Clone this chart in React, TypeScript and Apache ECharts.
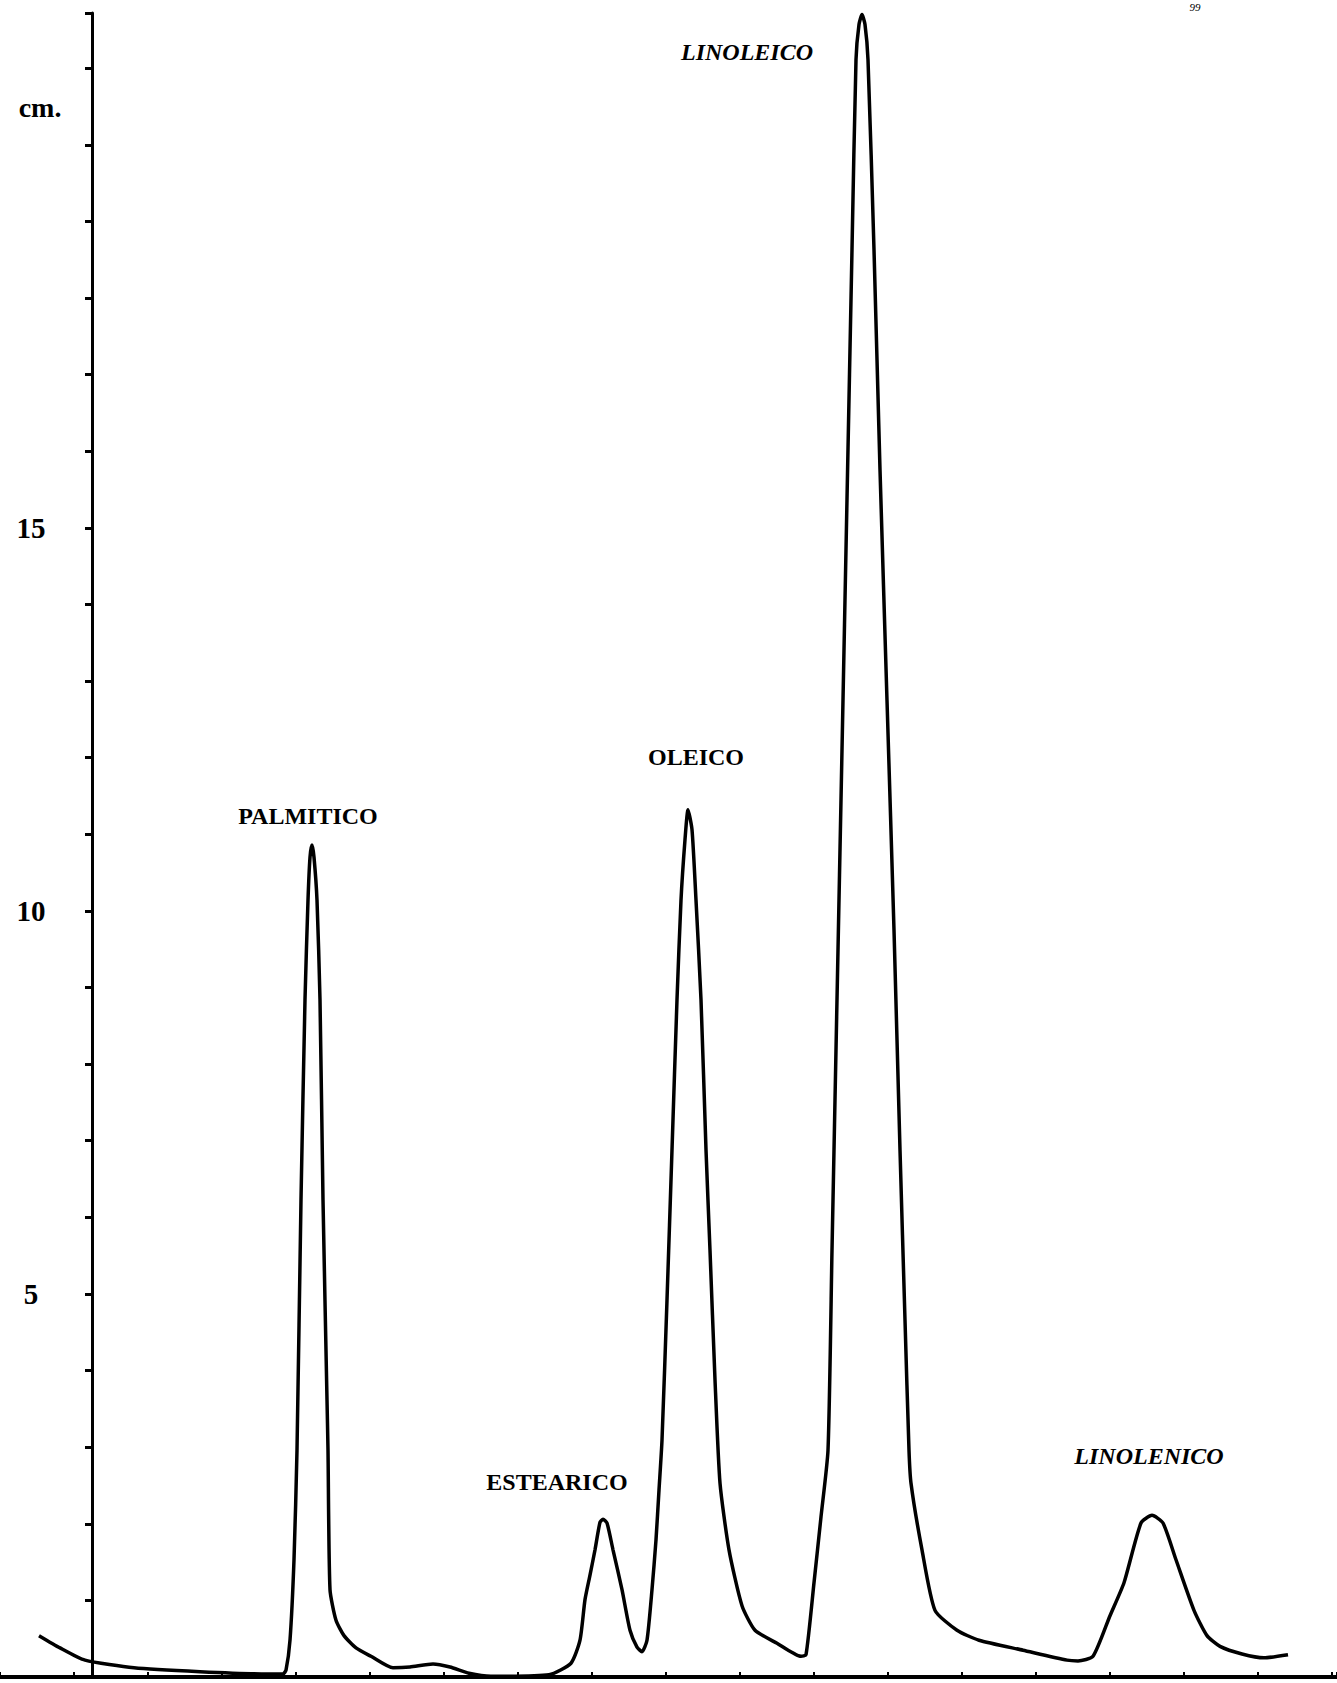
import React, { useEffect, useRef } from "react";
import * as echarts from "echarts";

// Retention (chart-paper units, one tick every 74 units) and detector response (cm)
const retention = [
  39, 60, 85, 134, 200, 267, 283, 286, 290, 294, 297, 301, 305, 308, 310, 312, 314, 317, 320, 323, 327, 328, 330,
  336, 344, 356, 371, 393, 410, 433, 450, 469, 491, 549, 571, 580, 585, 590, 595, 600, 603, 607, 613, 622, 630,
  637, 642, 647, 652, 656, 659, 662, 667, 672, 677, 681, 685, 688, 692, 696, 701, 706, 710, 715, 720, 729, 742,
  755, 777, 801, 806, 814, 821, 828, 832, 837, 842, 847, 852, 856, 859, 862, 865, 868, 874, 880, 887, 894, 900,
  905, 909, 911, 922, 935, 957, 979, 1023, 1067, 1078, 1093, 1110, 1124, 1141, 1152, 1163, 1176, 1194, 1207,
  1220, 1242, 1264, 1288,
];
const signalCm = [
  0.54, 0.38, 0.22, 0.12, 0.07, 0.04, 0.04, 0.09, 0.48, 1.53, 2.96, 6.23, 8.84, 10.14, 10.7, 10.86, 10.7, 10.14,
  8.84, 6.23, 3.62, 2.96, 1.14, 0.74, 0.54, 0.38, 0.27, 0.12, 0.13, 0.17, 0.13, 0.05, 0.01, 0.03, 0.18, 0.48,
  1.01, 1.33, 1.66, 2.02, 2.06, 2.01, 1.66, 1.14, 0.61, 0.39, 0.33, 0.48, 1.14, 1.79, 2.44, 3.09, 4.92, 6.88,
  8.84, 10.14, 10.93, 11.32, 11.06, 10.14, 8.84, 6.88, 5.57, 3.88, 2.53, 1.66, 0.93, 0.61, 0.44, 0.27, 0.29,
  1.23, 2.09, 2.96, 5.57, 8.84, 12.1, 15.37, 18.63, 21.11, 21.57, 21.7, 21.57, 21.11, 18.63, 15.76, 12.75, 9.75,
  6.88, 4.66, 2.96, 2.53, 1.66, 0.87, 0.61, 0.48, 0.35, 0.22, 0.21, 0.27, 0.8, 1.23, 2.01, 2.11, 2.01, 1.53, 0.87,
  0.54, 0.4, 0.3, 0.25, 0.29,
];

const peakNames = ["PALMITICO", "ESTEARICO", "OLEICO", "LINOLEICO", "LINOLENICO"];
const peakLabelX = [308, 557, 696, 747, 1149];
const peakLabelY = [11.24, 2.55, 12.01, 21.21, 2.89];
const peakLabelItalic = [false, false, false, true, true];

const yTickLabels = [5, 10, 15];
const yUnit = "cm.";
const pageNumber = "99";

const SERIF = '"Liberation Serif", "Times New Roman", serif';

export default function App() {
  const ref = useRef<HTMLDivElement>(null);
  useEffect(() => {
    const chart = echarts.init(ref.current!, null, { renderer: "svg" });
    chart.setOption({
      animation: false,
      backgroundColor: "#ffffff",
      grid: { left: 0, right: 0, top: 13, bottom: 6, containLabel: false },
      xAxis: {
        type: "value",
        min: 0,
        max: 1337,
        interval: 74,
        axisLine: { show: true, onZero: false, lineStyle: { color: "#000", width: 4 } },
        axisTick: { show: true, inside: true, length: 5, lineStyle: { color: "#000", width: 2 } },
        axisLabel: { show: false },
        splitLine: { show: false },
      },
      yAxis: {
        type: "value",
        min: 0,
        max: 21.72,
        interval: 1,
        offset: -92,
        axisLine: { show: true, onZero: false, lineStyle: { color: "#000", width: 3 } },
        axisTick: { show: true, length: 7, lineStyle: { color: "#000", width: 3 } },
        axisLabel: {
          show: true,
          margin: 61,
          align: "center",
          color: "#000",
          fontFamily: SERIF,
          fontWeight: "bold",
          fontSize: 29,
          formatter: (v: number) => (yTickLabels.includes(v) ? String(v) : ""),
        },
        splitLine: { show: false },
      },
      graphic: [
        {
          type: "text",
          x: 40,
          y: 107,
          style: {
            text: yUnit,
            font: `bold 28px ${SERIF}`,
            fill: "#000",
            align: "center",
            verticalAlign: "middle",
            textAlign: "center",
            textVerticalAlign: "middle",
          },
        },
        {
          type: "text",
          x: 1195,
          y: 1,
          style: {
            text: pageNumber,
            font: `italic 11px ${SERIF}`,
            fill: "#000",
            align: "center",
            verticalAlign: "top",
            textAlign: "center",
            textVerticalAlign: "top",
          },
        },
      ],
      series: [
        {
          type: "line",
          data: retention.map((x, i) => [x, signalCm[i]]),
          symbol: "none",
          showSymbol: false,
          smooth: 0.2,
          clip: false,
          lineStyle: { color: "#000", width: 3.5 },
          markPoint: {
            symbol: "circle",
            symbolSize: 1,
            itemStyle: { color: "rgba(0,0,0,0)" },
            label: {
              show: true,
              position: "inside",
              color: "#000",
              fontFamily: SERIF,
              fontWeight: "bold",
              fontSize: 24,
              formatter: (p: any) => p.name,
            },
            data: peakNames.map((n, i) => ({
              name: n,
              coord: [peakLabelX[i], peakLabelY[i]],
              label: { fontStyle: peakLabelItalic[i] ? "italic" : "normal" },
            })),
          },
        },
      ],
    });
    return () => chart.dispose();
  }, []);
  return (
    <div
      ref={ref}
      style={{ position: "absolute", left: 0, top: 0, width: 1337, height: 1683, background: "#fff" }}
    />
  );
}
